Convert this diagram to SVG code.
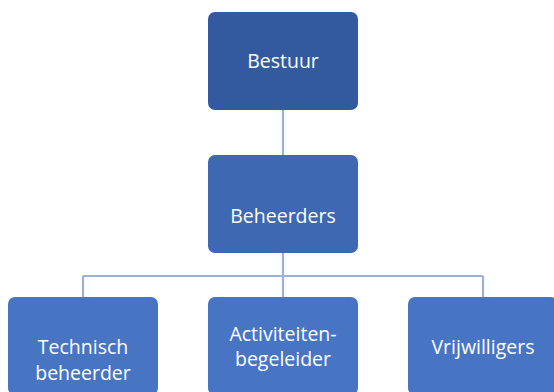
<svg xmlns="http://www.w3.org/2000/svg" width="554" height="392" viewBox="0 0 554 392">
<style>
.t{font-family:"Open Sans","Noto Sans","Liberation Sans",sans-serif;font-size:19.5px;fill:#fff;text-anchor:middle}
.c{stroke:#9cb0dc;stroke-width:2.2;fill:none}
</style>
<rect width="554" height="392" fill="#fff"/>
<g id="connectors">
<path class="c" d="M283 110V155M283 253V297M83 276H483M83 276V297M483 276V297"/>
</g>
<g id="bestuur"><rect x="208" y="12" width="150" height="98" rx="7" fill="#335a9e"/><text class="t" x="283" y="68">Bestuur</text></g>
<g id="beheerders"><rect x="208" y="155" width="150" height="98" rx="7" fill="#3e68b1"/><text class="t" x="283" y="223">Beheerders</text></g>
<g id="technisch"><rect x="8" y="297" width="150" height="98" rx="7" fill="#4775c4"/><text class="t" x="83" y="354">Technisch</text><text class="t" x="83" y="380">beheerder</text></g>
<g id="activiteiten"><rect x="208" y="297" width="150" height="98" rx="7" fill="#4775c4"/><text class="t" x="283" y="341">Activiteiten-</text><text class="t" x="283" y="366">begeleider</text></g>
<g id="vrijwilligers"><rect x="408" y="297" width="150" height="98" rx="7" fill="#4775c4"/><text class="t" x="483" y="354">Vrijwilligers</text></g>
</svg>
